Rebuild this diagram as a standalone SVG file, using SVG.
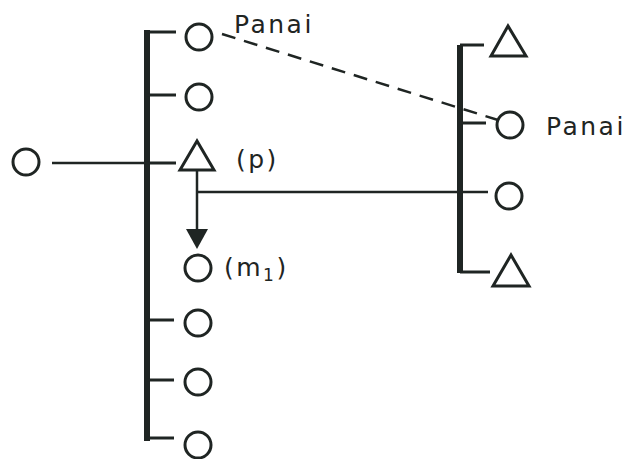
<svg xmlns="http://www.w3.org/2000/svg" width="641" height="459" viewBox="0 0 641 459">
<defs>
<style>
.bar{fill:none;stroke:#1f2523;stroke-width:6}
.tick{fill:none;stroke:#1f2523;stroke-width:3}
.node{fill:none;stroke:#1f2523;stroke-width:3}
.lbl{font-family:"DejaVu Sans",sans-serif;font-size:25px;fill:#1f2523;letter-spacing:2.5px}
.conn{fill:none;stroke:#1f2523;stroke-width:2.5}
</style>
</defs>
<rect width="641" height="459" fill="#ffffff"/>
<g id="bars">
<path class="bar" d="M147,30 V441"/>
<path class="bar" d="M460,45 V273"/>
</g>
<g id="connectors">
<path class="tick" d="M147,32 H176"/>
<path class="tick" d="M147,95 H176"/>
<path class="tick" d="M147,163 H176"/>
<path class="tick" d="M147,320 H174"/>
<path class="tick" d="M147,380 H174"/>
<path class="tick" d="M147,438 H174"/>
<path class="tick" d="M460,45 H484"/>
<path class="tick" d="M460,123 H486"/>
<path class="tick" d="M460,272 H490"/>
<path class="conn" d="M52,163 H147"/>
<path class="conn" d="M197,192 H488"/>
<path d="M197,171 V230" class="conn"/>
<path d="M186,229 L208,229 L197,249 Z" fill="#1f2523"/>
<path class="conn" d="M222,34 L498,120" stroke-dasharray="14,9"/>
</g>
<g id="n-left"><circle class="node" cx="26" cy="162" r="13"/></g>
<g id="n1"><circle class="node" cx="199" cy="37" r="13"/><text class="lbl" x="234" y="33">Panai</text></g>
<g id="n2"><circle class="node" cx="199" cy="97" r="13"/></g>
<g id="n3-p"><path class="node" d="M197,141 L180,170 L214,170 Z"/><text class="lbl" x="236" y="168" letter-spacing="5">(p)</text></g>
<g id="n4-m1"><circle class="node" cx="198" cy="268" r="13"/><text class="lbl" x="224" y="276" letter-spacing="2">(m<tspan font-size="17" dy="5">1</tspan><tspan dy="-5">)</tspan></text></g>
<g id="n5"><circle class="node" cx="198" cy="323" r="13"/></g>
<g id="n6"><circle class="node" cx="198" cy="382" r="13"/></g>
<g id="n7"><circle class="node" cx="198" cy="445" r="13"/></g>
<g id="r1"><path class="node" d="M508,26 L491,56 L526,56 Z"/></g>
<g id="r2"><circle class="node" cx="510" cy="125" r="13"/><text class="lbl" x="546" y="135" font-size="26">Panai</text></g>
<g id="r3"><circle class="node" cx="509" cy="196" r="13"/></g>
<g id="r4"><path class="node" d="M511,255 L493,286 L529,286 Z"/></g>
</svg>
